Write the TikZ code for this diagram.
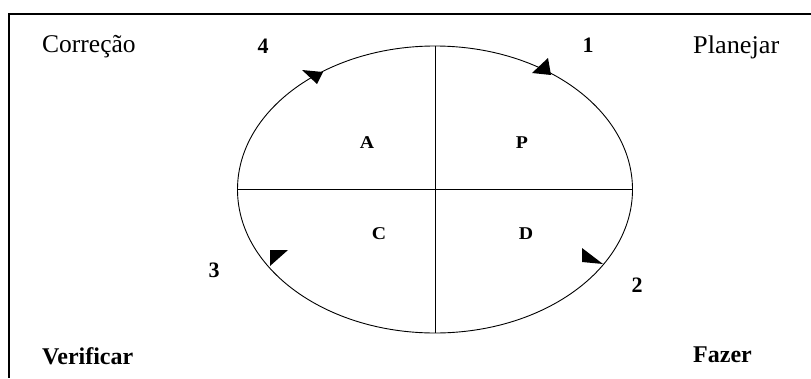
\documentclass[tikz,border=0pt]{standalone}
\usepackage{fontspec}
\setmainfont{Liberation Serif}
\usetikzlibrary{shapes.geometric}
\tikzset{
  lbl/.style={inner sep=0pt, font=\fontsize{25.5}{27}\selectfont},
  blbl/.style={inner sep=0pt, font=\fontsize{24}{26}\selectfont\bfseries},
  num/.style={inner sep=0pt, font=\fontsize{22}{24}\selectfont\bfseries},
  quad/.style={inner sep=0pt, font=\fontsize{18}{20}\selectfont\bfseries},
  flag/.style={fill=black, draw=none},
}
\begin{document}
\begin{tikzpicture}[x=1pt,y=-1pt]
\useasboundingbox (0,0) rectangle (811,378);
% frame
\draw[line width=2pt] (8,14) -- (811,14);
\draw[line width=1.1pt] (9,14) -- (9,378);
% cycle
\node[ellipse, draw, line width=0.9pt, minimum width=395pt, minimum height=287pt, inner sep=0pt] (cyc) at (435,189.5) {};
\draw[line width=0.9pt] (cyc.north) -- (cyc.south);
\draw[line width=1.3pt] (cyc.west) -- (cyc.east);
% arrow flags
\fill[flag] (302,70) -- (323,72) -- (317,84) -- cycle;
\fill[flag] (532,73) -- (548,58) -- (551,75) -- cycle;
\fill[flag] (582,248) -- (582,262) -- (603,264) -- cycle;
\fill[flag] (270,250) -- (288,250) -- (270,266) -- cycle;
% labels
\node[lbl, anchor=west] (corr) at (42,47) {Correção};
\node[lbl, anchor=west] (plan) at (693,47) {\scalebox{1.03}[1]{Planejar}};
\node[blbl, anchor=west] (veri) at (42,356) {Verificar};
\node[blbl, anchor=west] (faze) at (693,355) {Fazer};
\node[num] (n4) at (263,46) {4};
\node[num] (n1) at (588,45) {1};
\node[num] (n3) at (214,270) {3};
\node[num] (n2) at (637,285) {2};
\node[quad] (qa) at (367,143) {\scalebox{1.1}[1]{A}};
\node[quad] (qp) at (522,143) {\scalebox{1.1}[1]{P}};
\node[quad] (qc) at (379,234) {\scalebox{1.1}[1]{C}};
\node[quad] (qd) at (526,234) {\scalebox{1.1}[1]{D}};
\end{tikzpicture}
\end{document}
